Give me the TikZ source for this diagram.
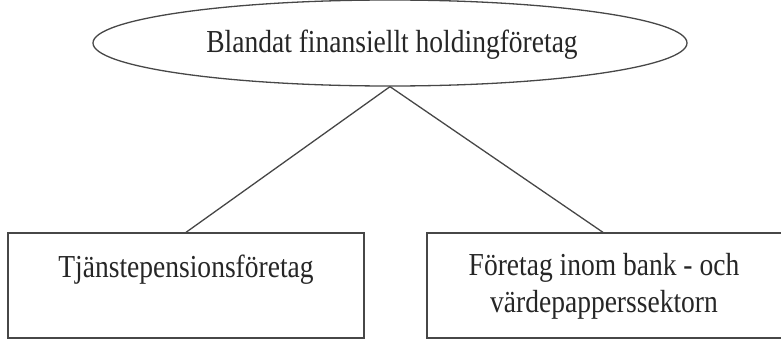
\documentclass[tikz,border=0pt]{standalone}
\usepackage{fontspec}
\setmainfont[FakeStretch=0.86]{Liberation Serif}
\usetikzlibrary{shapes.geometric}
\begin{document}
\begin{tikzpicture}[x=1pt,y=-1pt,
  line/.style={draw=black!72,line width=1.3pt},
  txt/.style={inner sep=0pt,anchor=base,font=\fontsize{32}{37}\selectfont,text=black!85},
  boxnode/.style={line,rectangle,inner sep=0pt}]
\useasboundingbox (0,0) rectangle (781,340);
\node[line,ellipse,minimum width=594pt,minimum height=86pt,inner sep=0pt] (top) at (390,43) {};
\node[txt] (toptxt) at (392,52) {Blandat finansiellt holdingföretag};
\node[boxnode,minimum width=356pt,minimum height=105pt] (lb) at (186,285.5) {};
\node[boxnode,minimum width=356pt,minimum height=105pt] (rb) at (605,285.5) {};
\node[txt] (lbtxt) at (186,277) {Tjänstepensionsföretag};
\node[txt,align=center] (rbtxt) at (604,312) {Företag inom bank - och\\värdepapperssektorn};
\draw[line] (top.south) -- (lb.north);
\draw[line] (top.south) -- ([xshift=-2pt]rb.north);
\end{tikzpicture}
\end{document}
